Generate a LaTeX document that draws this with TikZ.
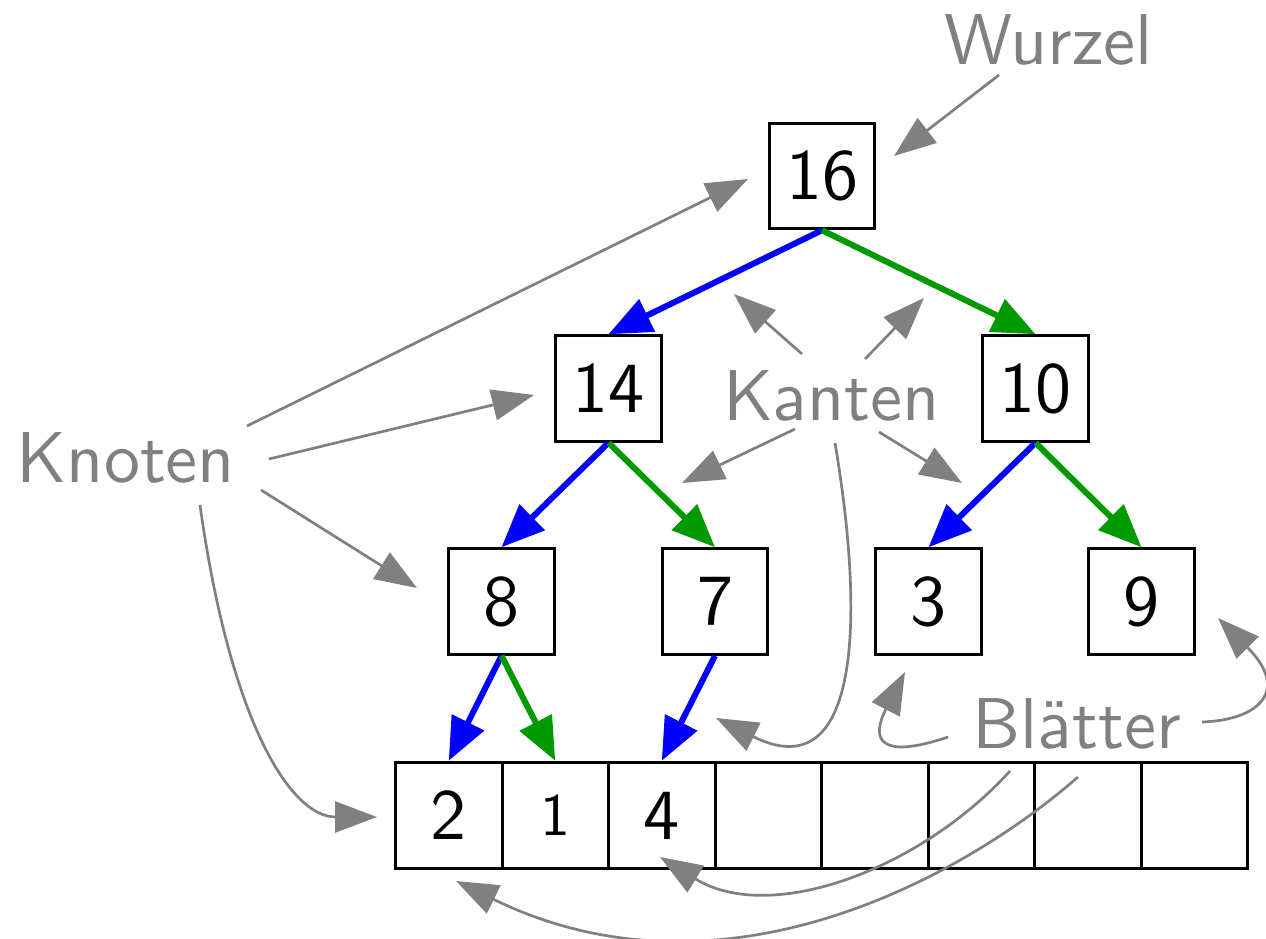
\documentclass[tikz,border=0pt]{standalone}
\usepackage{fontspec}
\usetikzlibrary{arrows.meta}
\newfontfamily\lmsten{lmsans10-regular}[Extension=.otf]
\definecolor{dgreen}{RGB}{0,153,0}
\definecolor{lgray}{RGB}{128,128,128}
\newcommand\bignum{\lmsten\fontsize{72}{86}\selectfont}
\newcommand\smallnum{\lmsten\fontsize{60}{70}\selectfont}
\begin{document}
\begin{tikzpicture}[x=1pt,y=-1pt,
  box/.style={draw,line width=3pt,minimum size=105.5pt,inner sep=0pt,font=\bignum},
  cell/.style={draw,line width=3pt,minimum size=106.5pt,inner sep=0pt,font=\bignum},
  lbl/.style={text=lgray,inner sep=0pt,anchor=base,font=\bignum},
  tedge/.style={line width=6pt,-{Triangle[length=43pt,width=35pt]}},
  garrow/.style={lgray,line width=2.7pt,-{Triangle[length=42pt,width=31pt]}},
]
\useasboundingbox (0,0) rectangle (1266,939);

% tree nodes
\node[box] (n16) at (822,176) {16};
\node[box] (n14) at (608.5,388.5) {14};
\node[box] (n10) at (1035.5,388.5) {10};
\node[box] (n8) at (501.5,601.5) {8};
\node[box] (n7) at (715,601.5) {7};
\node[box] (n3) at (928.5,601.5) {3};
\node[box] (n9) at (1141.5,601.5) {9};

% array
\node[cell] (c1) at (448.75,815.5) {2};
\node[cell,font=\smallnum] (c2) at (555.25,815.5) {1};
\node[cell] (c3) at (661.75,815.5) {4};
\node[cell] (c4) at (768.25,815.5) {};
\node[cell] (c5) at (874.75,815.5) {};
\node[cell] (c6) at (981.25,815.5) {};
\node[cell] (c7) at (1087.75,815.5) {};
\node[cell] (c8) at (1194.25,815.5) {};

% tree edges
\draw[tedge,blue] (n16.south) -- (n14.north);
\draw[tedge,dgreen] (n16.south) -- (n10.north);
\draw[tedge,blue] (n14.south) -- (n8.north);
\draw[tedge,dgreen] (n14.south) -- (n7.north);
\draw[tedge,blue] (n10.south) -- (n3.north);
\draw[tedge,dgreen] (n10.south) -- (n9.north);
\draw[tedge,blue] (n8.south) -- (c1.north);
\draw[tedge,dgreen] (n8.south) -- (c2.north);
\draw[tedge,blue] (n7.south) -- (c3.north);

% labels
\node[lbl] (wurzel) at (1048.5,65) {Wurzel};
\node[lbl] (knoten) at (126,482) {Knoten};
\node[lbl] (kanten) at (831.5,420) {Kanten};
\node[lbl] (blaetter) at (1076.5,748) {Blätter};

% Wurzel
\coordinate (w1) at (999,75);
\coordinate (w2) at (894,156);
\draw[garrow] (w1) -- (w2);

% Knoten
\coordinate (k1s) at (247,426);
\coordinate (k1e) at (748,179);
\coordinate (k2s) at (269,459);
\coordinate (k2e) at (534,395);
\coordinate (k3s) at (261,490);
\coordinate (k3e) at (417,588);
\coordinate (k4s) at (200,505);
\coordinate (k4e) at (377,817);
\draw[garrow] (k1s) -- (k1e);
\draw[garrow] (k2s) -- (k2e);
\draw[garrow] (k3s) -- (k3e);
\draw[garrow] (k4s) .. controls (230,720) and (290,817) .. (k4e);

% Kanten
\coordinate (e1s) at (802,354);
\coordinate (e1e) at (734,294);
\coordinate (e2s) at (865,359);
\coordinate (e2e) at (924,298);
\coordinate (e3s) at (795,429);
\coordinate (e3e) at (682,483);
\coordinate (e4s) at (879,432);
\coordinate (e4e) at (962,483);
\coordinate (e5s) at (835,443);
\coordinate (e5e) at (716,718);
\draw[garrow] (e1s) -- (e1e);
\draw[garrow] (e2s) -- (e2e);
\draw[garrow] (e3s) -- (e3e);
\draw[garrow] (e4s) -- (e4e);
\draw[garrow] (e5s) .. controls (865,620) and (860,790) .. (e5e);

% Blaetter
\coordinate (b1s) at (948,737);
\coordinate (b1e) at (905,672);
\coordinate (b2s) at (1202,722);
\coordinate (b2e) at (1218,618);
\coordinate (b3s) at (1010,771);
\coordinate (b3e) at (660,857);
\coordinate (b4s) at (1078,777);
\coordinate (b4e) at (456,881);
\draw[garrow] (b1s) .. controls (880,760) and (870,740) .. (b1e);
\draw[garrow] (b2s) .. controls (1260,720) and (1290,690) .. (b2e);
\draw[garrow] (b3s) .. controls (920,870) and (770,925) .. (b3e);
\draw[garrow] (b4s) .. controls (960,880) and (720,1010) .. (b4e);
\end{tikzpicture}
\end{document}
